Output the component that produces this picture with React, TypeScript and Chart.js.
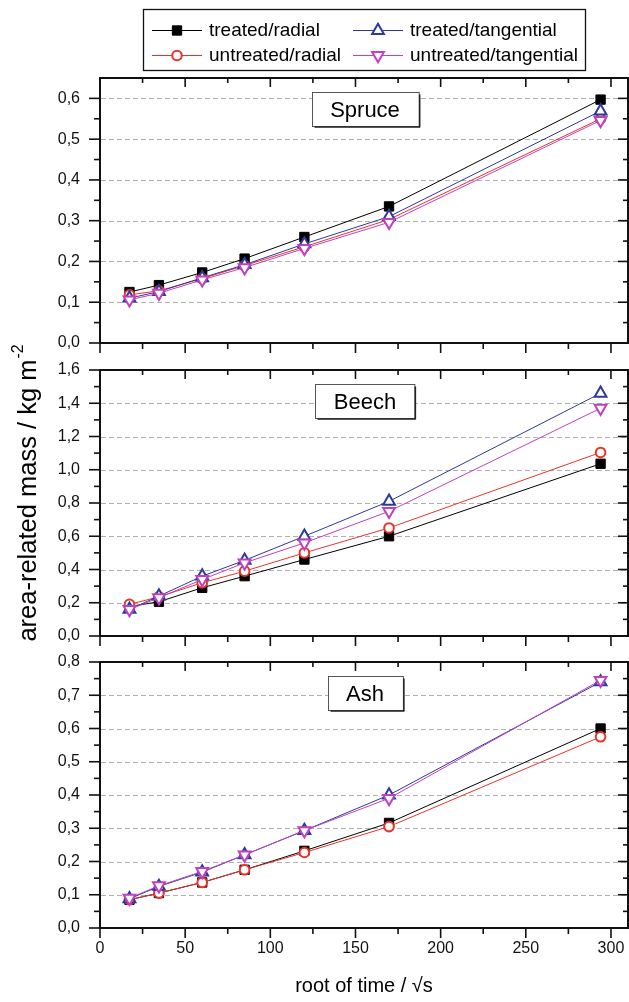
import React, { useEffect, useRef } from "react";
import { Chart, registerables } from "chart.js";
import { drawPoint } from "chart.js/helpers";

Chart.register(...registerables);

const FONT = "'Liberation Sans', Arial, Helvetica, sans-serif";

// ---------- data ----------
const X_VALUES = [17.3, 34.6, 60, 84.9, 120, 169.7, 293.9];
const X_TICKS = [0, 50, 100, 150, 200, 250, 300];
const X_MINOR_TICKS = [25, 75, 125, 175, 225, 275];

const SERIES_LABELS = ["treated/radial", "treated/tangential", "untreated/radial", "untreated/tangential"];

const SPRUCE_TREATED_RADIAL = [0.125, 0.142, 0.173, 0.207, 0.26, 0.335, 0.597];
const SPRUCE_TREATED_TANGENTIAL = [0.11, 0.126, 0.16, 0.192, 0.243, 0.31, 0.569];
const SPRUCE_UNTREATED_RADIAL = [0.118, 0.128, 0.158, 0.19, 0.236, 0.303, 0.55];
const SPRUCE_UNTREATED_TANGENTIAL = [0.106, 0.122, 0.155, 0.185, 0.232, 0.296, 0.546];

const BEECH_TREATED_RADIAL = [0.177, 0.206, 0.29, 0.36, 0.46, 0.6, 1.036];
const BEECH_TREATED_TANGENTIAL = [0.16, 0.24, 0.36, 0.455, 0.6, 0.81, 1.46];
const BEECH_UNTREATED_RADIAL = [0.19, 0.236, 0.32, 0.39, 0.5, 0.65, 1.104];
const BEECH_UNTREATED_TANGENTIAL = [0.16, 0.23, 0.34, 0.44, 0.56, 0.75, 1.37];

const ASH_TREATED_RADIAL = [0.085, 0.105, 0.137, 0.175, 0.232, 0.316, 0.6];
const ASH_TREATED_TANGENTIAL = [0.088, 0.125, 0.168, 0.22, 0.293, 0.4, 0.74];
const ASH_UNTREATED_RADIAL = [0.085, 0.105, 0.137, 0.175, 0.227, 0.305, 0.575];
const ASH_UNTREATED_TANGENTIAL = [0.09, 0.127, 0.17, 0.22, 0.293, 0.39, 0.745];

const SPRUCE_Y_TICKS = [0, 0.1, 0.2, 0.3, 0.4, 0.5, 0.6];
const SPRUCE_Y_MINOR = [0.05, 0.15, 0.25, 0.35, 0.45, 0.55];
const SPRUCE_GRID = [0.1, 0.2, 0.3, 0.4, 0.5, 0.6];

const BEECH_Y_TICKS = [0, 0.2, 0.4, 0.6, 0.8, 1.0, 1.2, 1.4, 1.6];
const BEECH_Y_MINOR = [0.1, 0.3, 0.5, 0.7, 0.9, 1.1, 1.3, 1.5];
const BEECH_GRID = [0.2, 0.4, 0.6, 0.8, 1.0, 1.2, 1.4];

const ASH_Y_TICKS = [0, 0.1, 0.2, 0.3, 0.4, 0.5, 0.6, 0.7, 0.8];
const ASH_Y_MINOR = [0.05, 0.15, 0.25, 0.35, 0.45, 0.55, 0.65, 0.75];
const ASH_GRID = [0.1, 0.2, 0.3, 0.4, 0.5, 0.6, 0.7];

// ---------- styles ----------
const STYLES = [
  { color: "#000000", fill: "#000000", pointStyle: "rect", radius: 6.6, rotation: 0, borderWidth: 1 },
  { color: "#2b3a9e", fill: "#ffffff", pointStyle: "triangle", radius: 6.8, rotation: 0, borderWidth: 2 },
  { color: "#e8332a", fill: "#ffffff", pointStyle: "circle", radius: 4.8, rotation: 0, borderWidth: 2 },
  { color: "#c040c0", fill: "#ffffff", pointStyle: "triangle", radius: 6.8, rotation: 180, borderWidth: 2 },
];
// drawing order: last listed index drawn on top
const DRAW_ORDER = [0, 2, 1, 3];

const PANELS = [
  {
    name: "Spruce", min: 0, max: 0.65, top: 78, bottom: 343,
    ticks: SPRUCE_Y_TICKS, minor: SPRUCE_Y_MINOR, grid: SPRUCE_GRID,
    series: [SPRUCE_TREATED_RADIAL, SPRUCE_TREATED_TANGENTIAL, SPRUCE_UNTREATED_RADIAL, SPRUCE_UNTREATED_TANGENTIAL],
    legend: true, yTitle: false, xAxis: false,
  },
  {
    name: "Beech", min: 0, max: 1.6, top: 370, bottom: 636,
    ticks: BEECH_Y_TICKS, minor: BEECH_Y_MINOR, grid: BEECH_GRID,
    series: [BEECH_TREATED_RADIAL, BEECH_TREATED_TANGENTIAL, BEECH_UNTREATED_RADIAL, BEECH_UNTREATED_TANGENTIAL],
    legend: false, yTitle: true, xAxis: false,
  },
  {
    name: "Ash", min: 0, max: 0.8, top: 662, bottom: 928,
    ticks: ASH_Y_TICKS, minor: ASH_Y_MINOR, grid: ASH_GRID,
    series: [ASH_TREATED_RADIAL, ASH_TREATED_TANGENTIAL, ASH_UNTREATED_RADIAL, ASH_UNTREATED_TANGENTIAL],
    legend: false, yTitle: false, xAxis: true,
  },
];

const W = 629;
const H = 1002;

const panelPlugin = {
  id: "panelDeco",
  beforeDatasetsDraw(chart: any, _args: any, opts: any) {
    const { ctx, chartArea } = chart;
    const { left, right } = chartArea;
    const y = chart.scales.y;
    ctx.save();
    ctx.setLineDash([5, 3]);
    ctx.strokeStyle = "#b0b0b0";
    ctx.lineWidth = 1;
    for (const v of opts.grid) {
      const py = Math.round(y.getPixelForValue(v)) + 0.5;
      ctx.beginPath();
      ctx.moveTo(left + 1, py);
      ctx.lineTo(right - 1, py);
      ctx.stroke();
    }
    ctx.restore();
  },
  afterDatasetsDraw(chart: any, _args: any, opts: any) {
    const { ctx, chartArea } = chart;
    const { left, right, top, bottom } = chartArea;
    const x = chart.scales.x;
    const y = chart.scales.y;
    ctx.save();
    ctx.strokeStyle = "#111";
    ctx.lineWidth = 1.6;
    const line = (x1: number, y1: number, x2: number, y2: number) => {
      ctx.beginPath();
      ctx.moveTo(x1, y1);
      ctx.lineTo(x2, y2);
      ctx.stroke();
    };
    for (const v of opts.ticks) {
      const py = y.getPixelForValue(v);
      line(left - 11, py, left, py);
      line(right - 10, py, right, py);
    }
    for (const v of opts.minor) {
      const py = y.getPixelForValue(v);
      line(left - 6, py, left, py);
      line(right - 5, py, right, py);
    }
    for (const v of X_TICKS) {
      const px = x.getPixelForValue(v);
      line(px, bottom, px, bottom + 10);
      line(px, top, px, top + 9);
    }
    for (const v of X_MINOR_TICKS) {
      const px = x.getPixelForValue(v);
      line(px, bottom, px, bottom + 6);
      line(px, top, px, top + 5);
    }
    // frame
    ctx.lineWidth = 2;
    ctx.strokeRect(left, top, right - left, bottom - top);

    // panel title box
    ctx.font = `22px ${FONT}`;
    const tw = ctx.measureText(opts.name).width;
    const bw = tw + 37;
    const bh = 34;
    const cx = (left + right) / 2 + 1;
    const bx = Math.round(cx - bw / 2) + 0.5;
    const by = top + 14.5;
    ctx.fillStyle = "#fff";
    ctx.fillRect(bx, by, bw, bh);
    ctx.strokeStyle = "#555";
    ctx.lineWidth = 1;
    ctx.strokeRect(bx, by, bw, bh);
    ctx.strokeStyle = "#222";
    ctx.lineWidth = 1.5;
    line(bx + bw + 0.5, by + 2, bx + bw + 0.5, by + bh + 0.8);
    line(bx + 2, by + bh + 0.5, bx + bw + 0.8, by + bh + 0.5);
    ctx.fillStyle = "#000";
    ctx.textAlign = "center";
    ctx.textBaseline = "middle";
    ctx.fillText(opts.name, cx, by + bh / 2 + 1);

    // y-axis title
    if (opts.yTitle) {
      ctx.save();
      ctx.translate(36, 493);
      ctx.rotate(-Math.PI / 2);
      const main = "area-related mass / kg m";
      ctx.font = `25.5px ${FONT}`;
      const w1 = ctx.measureText(main).width;
      ctx.font = `16px ${FONT}`;
      const w2 = ctx.measureText("-2").width;
      const x0 = -(w1 + w2 + 1) / 2;
      ctx.textAlign = "left";
      ctx.textBaseline = "alphabetic";
      ctx.fillStyle = "#000";
      ctx.font = `25.5px ${FONT}`;
      ctx.fillText(main, x0, 0);
      ctx.font = `16px ${FONT}`;
      ctx.fillText("-2", x0 + w1 + 1, -13);
      ctx.restore();
    }

    // x-axis title
    if (opts.xAxis) {
      ctx.font = `20px ${FONT}`;
      ctx.fillStyle = "#000";
      ctx.textAlign = "center";
      ctx.textBaseline = "alphabetic";
      ctx.fillText("root of time / \u221As", (left + right) / 2, 992);
    }

    // legend
    if (opts.legend) {
      const lx = 143.5, ly = 9.5, lw = 442, lh = 61;
      ctx.fillStyle = "#fff";
      ctx.fillRect(lx, ly, lw, lh);
      ctx.strokeStyle = "#111";
      ctx.lineWidth = 1.3;
      ctx.strokeRect(lx, ly, lw, lh);
      const cols = [152, 353];
      const rows = [30, 55];
      const entries = [
        { s: 0, c: 0, r: 0 },
        { s: 1, c: 1, r: 0 },
        { s: 2, c: 0, r: 1 },
        { s: 3, c: 1, r: 1 },
      ];
      for (const e of entries) {
        const st = STYLES[e.s];
        const x1 = cols[e.c];
        const yy = rows[e.r];
        ctx.strokeStyle = st.color;
        ctx.lineWidth = 1;
        line(x1, yy + 0.5, x1 + 50, yy + 0.5);
        ctx.fillStyle = st.fill;
        ctx.lineWidth = st.borderWidth;
        drawPoint(ctx, { pointStyle: st.pointStyle, rotation: st.rotation, radius: st.radius, borderWidth: st.borderWidth } as any, x1 + 25, yy + 0.5);
        ctx.fillStyle = "#000";
        ctx.font = `19px ${FONT}`;
        ctx.textAlign = "left";
        ctx.textBaseline = "middle";
        ctx.fillText(SERIES_LABELS[e.s], x1 + 57, yy + 1);
      }
    }
    ctx.restore();
  },
};

function makeConfig(p: any): any {
  const datasets = DRAW_ORDER.slice().reverse().map((si) => {
    const st = STYLES[si];
    return {
      label: SERIES_LABELS[si],
      data: X_VALUES.map((xv, k) => ({ x: xv, y: p.series[si][k] })),
      borderColor: st.color,
      borderWidth: 1,
      backgroundColor: st.fill,
      pointStyle: st.pointStyle,
      pointRadius: st.radius,
      pointRotation: st.rotation,
      pointBorderWidth: st.borderWidth,
      pointBorderColor: st.color,
      pointBackgroundColor: st.fill,
      fill: false,
      tension: 0,
    };
  });
  const xHeight = p.xAxis ? H - p.bottom : 0;
  return {
    type: "line",
    data: { datasets },
    options: {
      animation: false,
      responsive: false,
      maintainAspectRatio: false,
      events: [],
      layout: {
        autoPadding: false,
        padding: { left: 0, right: 1, top: p.top, bottom: p.xAxis ? 0 : H - p.bottom },
      },
      plugins: {
        legend: { display: false },
        tooltip: { enabled: false },
        title: { display: false },
        panelDeco: {
          name: p.name,
          ticks: p.ticks,
          minor: p.minor,
          grid: p.grid,
          legend: p.legend,
          yTitle: p.yTitle,
          xAxis: p.xAxis,
        },
      },
      scales: {
        x: {
          type: "linear",
          min: 0,
          max: 310,
          display: p.xAxis,
          grid: { display: false, drawTicks: false },
          border: { display: false },
          ticks: {
            color: "#111",
            font: { family: FONT, size: 16 },
            padding: 11,
            maxRotation: 0,
            autoSkip: false,
            callback: (v: any) => String(v),
          },
          afterBuildTicks: (s: any) => {
            s.ticks = X_TICKS.map((v) => ({ value: v }));
          },
          afterFit: (s: any) => {
            s.height = xHeight;
            s.paddingLeft = 0;
            s.paddingRight = 0;
          },
        },
        y: {
          type: "linear",
          min: p.min,
          max: p.max,
          grid: { display: false, drawTicks: false },
          border: { display: false },
          ticks: {
            color: "#111",
            font: { family: FONT, size: 16 },
            padding: 20,
            autoSkip: false,
            callback: (v: any) => Number(v).toFixed(1).replace(".", ","),
          },
          afterBuildTicks: (s: any) => {
            s.ticks = p.ticks.map((v: number) => ({ value: v }));
          },
          afterFit: (s: any) => {
            s.width = 100;
            s.paddingTop = 0;
            s.paddingBottom = 0;
          },
        },
      },
    },
    plugins: [panelPlugin],
  };
}

export default function App() {
  const r0 = useRef<HTMLCanvasElement>(null);
  const r1 = useRef<HTMLCanvasElement>(null);
  const r2 = useRef<HTMLCanvasElement>(null);
  useEffect(() => {
    const refs = [r0, r1, r2];
    const charts = PANELS.map((p, i) => new Chart(refs[i].current as HTMLCanvasElement, makeConfig(p)));
    return () => charts.forEach((c) => c.destroy());
  }, []);
  const cs: React.CSSProperties = { position: "absolute", left: 0, top: 0, width: W, height: H };
  return (
    <div style={{ position: "fixed", left: 0, top: 0, width: W, height: H, background: "#fff" }}>
      <canvas ref={r0} width={W} height={H} style={cs} />
      <canvas ref={r1} width={W} height={H} style={cs} />
      <canvas ref={r2} width={W} height={H} style={cs} />
    </div>
  );
}
